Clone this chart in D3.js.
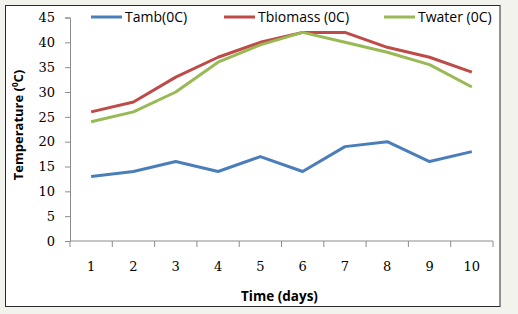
<!DOCTYPE html>
<html>
<head>
<meta charset="utf-8">
<script src="https://cdn.jsdelivr.net/npm/d3@7"></script>
<style>
  body { margin: 0; background: #f3f3ee; }
  svg { display: block; }
</style>
</head>
<body>
<div id="chart"></div>
<script>
// chart values
const days = [1, 2, 3, 4, 5, 6, 7, 8, 9, 10]
const tamb = [13, 14, 16, 14, 17, 14, 19, 20, 16, 18]
const tbiomass = [26, 28, 33, 37, 40, 42, 42, 39, 37, 34]
const twater = [24, 26, 30, 36, 39.5, 42, 40, 38, 35.5, 31]
const yTicks = [0, 5, 10, 15, 20, 25, 30, 35, 40, 45]

const seriesNames = ['Tamb(0C)', 'Tbiomass (0C)', 'Twater (0C)']
const seriesColors = ['#4a7ebb', '#be4b48', '#98b954']

const fullWidth = 518
const fullHeight = 314

var margin = { top: 17.5, right: 25, bottom: 73, left: 70 },
    width = fullWidth - margin.left - margin.right,
    height = fullHeight - margin.top - margin.bottom;

const root = d3.select('#chart')
    .append('svg')
    .attr('width', fullWidth)
    .attr('height', fullHeight)

// white chart area with dark frame
root.append('rect')
    .attr('x', 5.5)
    .attr('y', 5.5)
    .attr('width', 494.5)
    .attr('height', 301)
    .attr('fill', 'white')
    .attr('stroke', '#2b2b2b')
    .attr('stroke-width', 1)

const svg = root.append('g')
    .attr('transform', 'translate(' + margin.left + ',' + margin.top + ')')

var x = d3.scaleBand()
    .domain(days)
    .range([0, width])

var y = d3.scaleLinear()
    .domain([0, 45])
    .range([height, 0])

// x axis: ticks on band boundaries, labels at centres
const xAxis = svg.append('g')
    .attr('transform', 'translate(0,' + height + ')')

xAxis.append('line')
    .attr('x1', 0).attr('x2', width)
    .attr('stroke', '#8c8c8c')

xAxis.selectAll('.xtick')
    .data(days.concat(['end']))
    .enter()
    .append('line')
    .attr('x1', d => d === 'end' ? width : x(d))
    .attr('x2', d => d === 'end' ? width : x(d))
    .attr('y1', 0)
    .attr('y2', 6)
    .attr('stroke', '#8c8c8c')

xAxis.selectAll('.xlabel')
    .data(days)
    .enter()
    .append('text')
    .attr('x', d => x(d) + x.bandwidth() / 2)
    .attr('y', 30)
    .attr('text-anchor', 'middle')
    .attr('font-family', 'DejaVu Serif')
    .attr('font-size', 13)
    .attr('fill', '#000')
    .text(d => d)

// y axis
const yAxis = svg.append('g')
    .call(d3.axisLeft(y).tickValues(yTicks).tickSize(5).tickPadding(10))

yAxis.select('.domain').attr('stroke', '#8c8c8c')
yAxis.selectAll('.tick line').attr('stroke', '#8c8c8c')
yAxis.selectAll('.tick text')
    .attr('font-family', 'DejaVu Serif')
    .attr('font-size', 13)
    .attr('fill', '#000')

// series lines
const allSeries = [tamb, tbiomass, twater]

allSeries.forEach((vals, i) => {
    svg.append('path')
        .datum(vals)
        .attr('fill', 'none')
        .attr('stroke', seriesColors[i])
        .attr('stroke-width', 3)
        .attr('stroke-linejoin', 'round')
        .attr('d', d3.line()
            .x((d, j) => x(days[j]) + x.bandwidth() / 2)
            .y(d => y(d))
        )
})

// legend
const legendX = [91, 224, 384]
const legend = root.append('g')
    .selectAll('g')
    .data(seriesNames)
    .enter()
    .append('g')
    .attr('transform', (d, i) => 'translate(' + legendX[i] + ',17)')

legend.append('line')
    .attr('x1', 0).attr('x2', 31)
    .attr('stroke', (d, i) => seriesColors[i])
    .attr('stroke-width', 3)

legend.append('text')
    .attr('x', 34)
    .attr('y', 5)
    .attr('font-family', 'Open Sans')
    .attr('font-size', 14)
    .attr('fill', '#000')
    .text(d => d)

// axis titles
root.append('text')
    .attr('x', margin.left + width / 2 - 2)
    .attr('y', 301)
    .attr('text-anchor', 'middle')
    .attr('font-family', 'Open Sans')
    .attr('font-weight', 'bold')
    .attr('font-size', 13.5)
    .text('Time (days)')

const yTitle = root.append('text')
    .attr('transform', 'translate(23,125) rotate(-90)')
    .attr('text-anchor', 'middle')
    .attr('font-family', 'Open Sans')
    .attr('font-weight', 'bold')
    .attr('font-size', 13)

yTitle.append('tspan').text('Temperature (')
yTitle.append('tspan').attr('font-size', 8).attr('dy', -5).text('0')
yTitle.append('tspan').attr('dy', 5).text('C)')
</script>
</body>
</html>
